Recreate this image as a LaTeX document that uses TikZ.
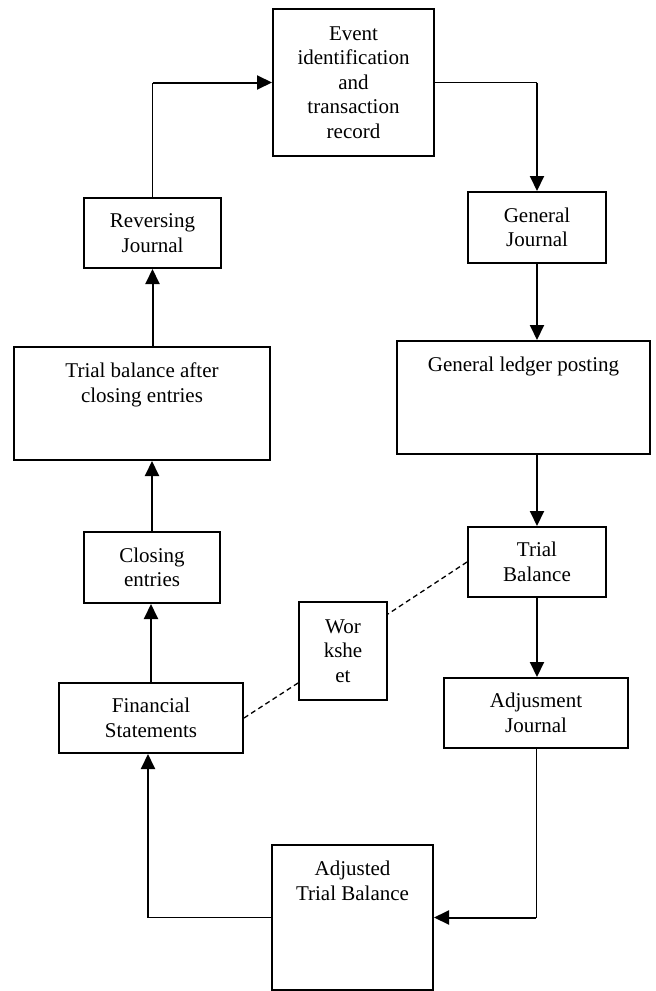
\documentclass[tikz,border=0pt]{standalone}
\usepackage{fontspec}
\setmainfont{Liberation Serif}
\usetikzlibrary{arrows.meta,calc}

\tikzset{every picture/.style={line width=1pt}}
\tikzset{
  cyclebox/.style={draw, line width=2pt, inner sep=0pt, align=center, font=\fontsize{21}{24.5}\selectfont},
  boxtext/.style={inner sep=0pt, align=center, anchor=north, font=\fontsize{21}{24.5}\selectfont},
  flow/.style={line width=2pt, -{Triangle[length=15pt,width=14pt]}},
  elbow/.style={line width=1pt},
  link/.style={line width=1.3pt, dash pattern=on 5pt off 3.5pt}
}

\begin{document}
\begin{tikzpicture}[x=1pt,y=1pt,yscale=-1,xscale=1]
\useasboundingbox (0,0) rectangle (656,991);

%Shape: Rectangle [event]
\node [cyclebox, minimum width=161, minimum height=147] (event) at (353.5,82.5) {Event\\identification\\and\\transaction\\record};
%Shape: Rectangle [general journal]
\node [cyclebox, minimum width=138, minimum height=71] (gj) at (537,227.5) {General\\Journal};
%Shape: Rectangle [ledger]
\node [cyclebox, minimum width=253, minimum height=113] (gl) at (523.5,397.5) {};
%Shape: Rectangle [trial balance]
\node [cyclebox, minimum width=138, minimum height=70] (tb) at (537,562) {Trial\\Balance};
%Shape: Rectangle [adjustment journal]
\node [cyclebox, minimum width=184, minimum height=70] (aj) at (536,713) {Adjusment\\Journal};
%Shape: Rectangle [adjusted trial balance]
\node [cyclebox, minimum width=161, minimum height=145] (atb) at (352.5,917.5) {};
%Shape: Rectangle [financial statements]
\node [cyclebox, minimum width=184, minimum height=70] (fs) at (151,718) {Financial\\Statements};
%Shape: Rectangle [worksheet]
\node [cyclebox, minimum width=88, minimum height=98] (ws) at (343,651) {Wor\\kshe\\et};
%Shape: Rectangle [closing entries]
\node [cyclebox, minimum width=136, minimum height=71] (close) at (152,567.5) {Closing\\entries};
%Shape: Rectangle [trial balance after closing]
\node [cyclebox, minimum width=256, minimum height=113] (tba) at (142,403.5) {};
%Shape: Rectangle [reversing journal]
\node [cyclebox, minimum width=137, minimum height=70] (rev) at (152.5,233) {Reversing\\Journal};

% Text Node
\node [boxtext] (gltext) at ($(gl.north)+(0,16.5)$) {General ledger posting};
% Text Node
\node [boxtext] (tbatext) at ($(tba.north)+(0,16.5)$) {Trial balance after\\closing entries};
% Text Node
\node [boxtext] (atbtext) at ($(atb.north)+(0,16.5)$) {Adjusted\\Trial Balance};

%Straight Lines [reversing -> event]
\coordinate (revturn) at (rev.north |- event.west);
\draw [elbow] (rev.north) -- (revturn);
\draw [flow] (revturn) -- (event.west);
%Straight Lines [event -> general journal]
\coordinate (eventturn) at (event.east -| gj.north);
\draw [elbow] (event.east) -- (eventturn);
\draw [flow] (eventturn) -- (gj.north);
%Straight Lines
\draw [flow] (gj.south) -- (gj.south |- gl.north);
\draw [flow] (tb.north |- gl.south) -- (tb.north);
\draw [flow] (tb.south) -- (tb.south |- aj.north);
%Straight Lines [adjustment -> adjusted]
\coordinate (ajturn) at (aj.south |- atb.east);
\draw [elbow] (aj.south) -- (ajturn);
\draw [flow] (ajturn) -- (atb.east);
%Straight Lines [adjusted -> statements]
\coordinate (fsfoot) at ($(fs.south)+(-3,0)$);
\coordinate (atbturn) at (fsfoot |- atb.west);
\draw [elbow] (atb.west) -- (atbturn);
\draw [flow] (atbturn) -- (fsfoot);
%Straight Lines
\draw [flow] (fs.north) -- (fs.north |- close.south);
\draw [flow] (close.north) -- (close.north |- tba.south);
\draw [flow] (rev.south |- tba.north) -- (rev.south);
%Straight Lines [worksheet, dashed]
\draw [link] (tb.west) -- ($(ws.north east)+(0,13)$);
\draw [link] (fs.east) -- ($(ws.south west)+(0,-18)$);

\end{tikzpicture}
\end{document}
